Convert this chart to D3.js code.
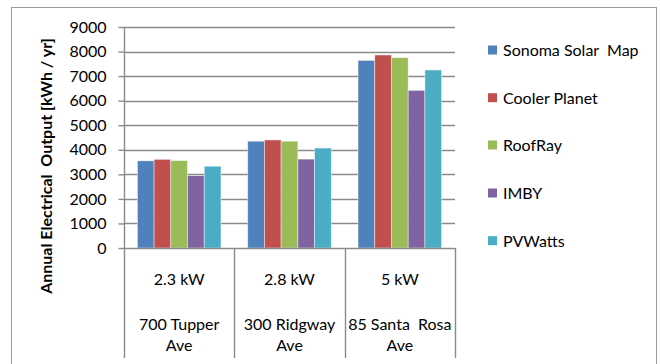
<!DOCTYPE html>
<html>
<head>
<meta charset="utf-8">
<script src="https://cdn.jsdelivr.net/npm/d3@7"></script>
<style>
  html, body { margin: 0; padding: 0; background: #fff; }
  svg { display: block; font-family: Lato, "Open Sans", sans-serif; }
</style>
</head>
<body>
<svg id="chart" width="660" height="364"></svg>
<script>
// Rated system size and site address for each house
const capacities = ["2.3 kW", "2.8 kW", "5 kW"];
const addresses = [["700 Tupper", "Ave"], ["300 Ridgway", "Ave"], ["85 Santa  Rosa", "Ave"]];

// Estimators compared and their colours
const seriesNames = ["Sonoma Solar  Map", "Cooler Planet", "RoofRay", "IMBY", "PVWatts"];
const seriesColors = ["#4F81BD", "#C0504D", "#9BBB59", "#8064A2", "#4BACC6"];

// Annual output per estimator (kWh / yr), one entry per house
const sonomaSolarMap = [3550, 4350, 7640];
const coolerPlanet   = [3610, 4400, 7860];
const roofRay        = [3560, 4350, 7750];
const imby           = [2950, 3620, 6420];
const pvWatts        = [3330, 4070, 7250];

const yTicks = [0, 1000, 2000, 3000, 4000, 5000, 6000, 7000, 8000, 9000];

const seriesValues = [sonomaSolarMap, coolerPlanet, roofRay, imby, pvWatts];
const rows = capacities.map((c, i) => ({
  key: c,
  address: addresses[i],
  values: seriesValues.map((vals, s) => ({ series: seriesNames[s], value: vals[i], color: seriesColors[s] }))
}));

const svg = d3.select("#chart");
const plot = { left: 124, right: 455, top: 27, bottom: 248 };
const catBottom = 358;
const gridColor = "#8a8a8a";
const fontSize = 16;

// Outer chart frame
svg.append("rect")
  .attr("x", 11.5).attr("y", 7.5)
  .attr("width", 645).attr("height", 370)
  .attr("fill", "none").attr("stroke", "#9a9a9a").attr("stroke-width", 1);

const y = d3.scaleLinear().domain([0, 9000]).range([plot.bottom, plot.top]);
const x = d3.scaleBand().domain(capacities).range([plot.left, plot.right]);
const inner = d3.scaleBand().domain(seriesNames)
  .range([0, x.bandwidth()]).paddingInner(0).paddingOuter(0.8);

// Horizontal gridlines
svg.append("g").selectAll("line").data(yTicks.slice(1)).join("line")
  .attr("x1", plot.left).attr("x2", plot.right)
  .attr("y1", d => Math.round(y(d)) + 0.5).attr("y2", d => Math.round(y(d)) + 0.5)
  .attr("stroke", gridColor).attr("stroke-width", 1.4);

// Bars
const groups = svg.append("g").selectAll("g").data(rows).join("g")
  .attr("transform", d => `translate(${x(d.key)},0)`);
groups.selectAll("rect").data(d => d.values).join("rect")
  .attr("x", d => inner(d.series))
  .attr("width", inner.bandwidth())
  .attr("y", d => y(d.value))
  .attr("height", d => y(0) - y(d.value))
  .attr("fill", d => d.color)
  .attr("stroke", "#ffffff").attr("stroke-opacity", 0.55).attr("stroke-width", 0.8);

// Value axis
const yAxis = svg.append("g")
  .attr("transform", `translate(${plot.left + 0.5},0)`)
  .call(d3.axisLeft(y).tickValues(yTicks).tickSize(6).tickPadding(12).tickFormat(d3.format("d")));
yAxis.select(".domain").attr("stroke", gridColor).attr("stroke-width", 1.4)
  .attr("d", `M0,${plot.top}V${plot.bottom}`);
yAxis.selectAll(".tick line").attr("stroke", gridColor).attr("stroke-width", 1.4);
yAxis.selectAll(".tick text").attr("font-size", fontSize).attr("fill", "#000")
  .attr("font-family", "Lato, sans-serif");

// Category axis: baseline and separators between houses
svg.append("line")
  .attr("x1", plot.left).attr("x2", plot.right)
  .attr("y1", plot.bottom + 0.5).attr("y2", plot.bottom + 0.5)
  .attr("stroke", gridColor).attr("stroke-width", 1.4);
const seps = capacities.map(c => x(c)).concat([x.range()[1]]);
svg.append("g").selectAll("line").data(seps).join("line")
  .attr("x1", d => Math.round(d) + 0.5).attr("x2", d => Math.round(d) + 0.5)
  .attr("y1", plot.bottom).attr("y2", catBottom)
  .attr("stroke", gridColor).attr("stroke-width", 1.4);

// Category labels: capacity, then wrapped address
const catLabels = svg.append("g").selectAll("g").data(rows).join("g")
  .attr("transform", d => `translate(${x(d.key) + x.bandwidth() / 2},0)`)
  .attr("text-anchor", "middle").attr("font-size", fontSize).attr("fill", "#000");
catLabels.append("text").attr("y", 285).text(d => d.key);
catLabels.selectAll("text.addr").data(d => d.address).join("text")
  .attr("class", "addr")
  .attr("y", (d, i) => 330 + i * 21)
  .style("white-space", "pre")
  .text(d => d);

// Value axis title
svg.append("text")
  .attr("transform", "translate(52,166) rotate(-90)")
  .attr("text-anchor", "middle")
  .attr("font-size", 16).attr("font-weight", "bold").attr("fill", "#000")
  .text("Annual Electrical  Output [kWh / yr]")
  .style("white-space", "pre");

// Legend
const legendRows = [50, 97.7, 145, 193, 240.7];
const legend = svg.append("g").selectAll("g").data(seriesNames).join("g")
  .attr("transform", (d, i) => `translate(488,${legendRows[i]})`);
legend.append("rect")
  .attr("x", 0).attr("y", -4.5).attr("width", 9).attr("height", 9)
  .attr("fill", (d, i) => seriesColors[i]);
legend.append("text")
  .attr("x", 15).attr("y", 6)
  .attr("font-size", fontSize).attr("fill", "#000")
  .style("white-space", "pre")
  .text(d => d);
</script>
</body>
</html>
